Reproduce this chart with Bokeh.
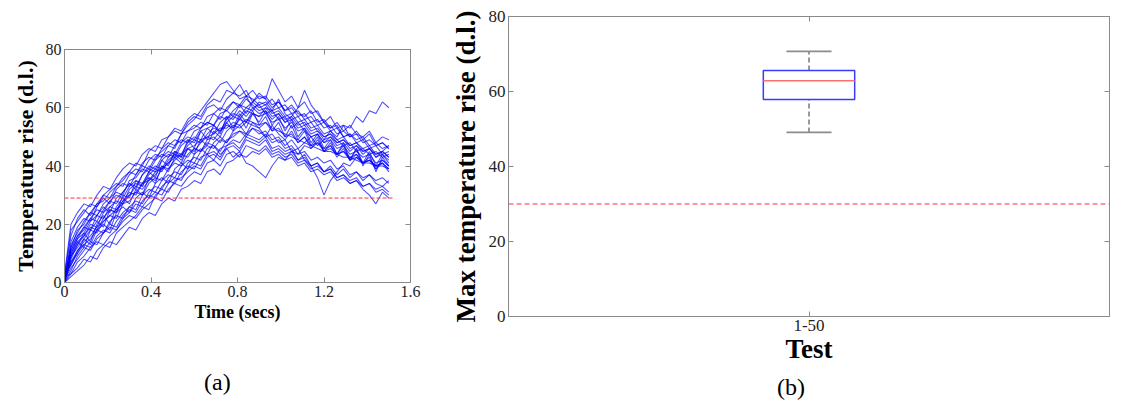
from bokeh.plotting import figure
from bokeh.models import (Range1d, FactorRange, LinearAxis, CategoricalAxis,
                          FixedTicker, Span, Div)
from bokeh.layouts import row, column
from bokeh.embed import file_html
from bokeh.resources import INLINE

SERIF = "Liberation Serif"
FRAME = "#8a8a8a"

# ---------------- data: temperature-rise traces (panel a) ----------------
time_s = [
    0.00, 0.03, 0.06, 0.09, 0.12, 0.15, 0.18, 0.21, 0.24, 0.27,
    0.30, 0.33, 0.36, 0.39, 0.42, 0.45, 0.48, 0.51, 0.54, 0.57,
    0.60, 0.63, 0.66, 0.69, 0.72, 0.75, 0.78, 0.81, 0.84, 0.87,
    0.90, 0.93, 0.96, 0.99, 1.02, 1.05, 1.08, 1.11, 1.14, 1.17,
    1.20, 1.23, 1.26, 1.29, 1.32, 1.35, 1.38, 1.41, 1.44, 1.47,
    1.50,
]

run_01 = [0, 12, 18, 20, 24, 27, 28, 31, 33, 36,
          38, 41, 40, 45, 47, 46, 50, 52, 51, 55,
          57, 56, 60, 61, 59, 63, 65, 64, 66, 62,
          65, 63, 60, 62, 59, 61, 58, 57, 59, 55,
          56, 53, 55, 52, 54, 51, 50, 52, 48, 50, 49]
run_02 = [2, 3, 5, 8, 7, 11, 13, 12, 17, 19,
          21, 23, 26, 25, 30, 32, 31, 35, 36, 38,
          40, 39, 43, 44, 42, 46, 47, 45, 49, 48,
          47, 49, 45, 46, 44, 45, 42, 43, 40, 41,
          38, 40, 37, 39, 36, 38, 35, 37, 34, 33, 35]
run_03 = [1, 9, 14, 12, 18, 21, 19, 25, 24, 30,
          29, 35, 33, 38, 36, 42, 40, 45, 43, 49,
          46, 52, 49, 54, 51, 57, 53, 58, 55, 59,
          54, 57, 52, 55, 50, 54, 49, 52, 47, 50,
          45, 48, 44, 47, 42, 46, 41, 45, 40, 44, 41]
run_04 = [0, 10, 15, 19, 18, 23, 26, 24, 29, 31,
          34, 33, 37, 40, 39, 43, 45, 44, 48, 50,
          49, 53, 55, 54, 57, 56, 59, 61, 58, 62,
          64, 63, 70, 66, 62, 64, 60, 62, 58, 59,
          55, 57, 53, 54, 50, 52, 49, 51, 47, 48, 46]
run_05 = [3, 6, 10, 13, 12, 16, 18, 17, 21, 24,
          26, 25, 30, 32, 31, 35, 37, 36, 40, 42,
          41, 45, 47, 46, 49, 48, 51, 52, 50, 53,
          51, 52, 49, 50, 47, 49, 46, 48, 50, 47,
          49, 52, 50, 54, 53, 57, 55, 59, 58, 62, 60]
run_06 = [0, 14, 19, 22, 21, 26, 29, 27, 32, 34,
          33, 37, 40, 39, 43, 45, 47, 46, 51, 54,
          56, 59, 62, 65, 68, 69, 66, 63, 64, 60,
          61, 58, 59, 56, 57, 53, 55, 52, 50, 51,
          48, 49, 46, 47, 44, 45, 43, 44, 41, 42, 40]
run_07 = [1, 5, 8, 11, 14, 13, 17, 19, 18, 22,
          24, 27, 26, 29, 31, 30, 34, 36, 35, 39,
          41, 40, 44, 45, 43, 47, 48, 46, 50, 49,
          48, 50, 46, 47, 45, 46, 42, 44, 40, 41,
          38, 39, 36, 37, 34, 35, 32, 30, 27, 31, 29]
run_08 = [2, 16, 22, 25, 23, 27, 30, 29, 33, 35,
          38, 37, 41, 43, 42, 46, 48, 47, 51, 52,
          54, 53, 57, 58, 56, 60, 62, 61, 64, 63,
          61, 62, 59, 60, 57, 58, 55, 56, 53, 54,
          51, 52, 49, 50, 47, 48, 46, 47, 44, 45, 43]
run_09 = [0, 7, 11, 14, 16, 19, 21, 23, 25, 27,
          30, 31, 34, 35, 38, 39, 41, 43, 44, 46,
          47, 49, 50, 51, 53, 53, 55, 54, 56, 55,
          54, 55, 53, 52, 51, 50, 49, 48, 47, 46,
          45, 45, 44, 43, 43, 42, 41, 41, 40, 40, 39]
run_10 = [1, 11, 16, 18, 22, 21, 25, 28, 27, 31,
          34, 32, 37, 39, 38, 42, 44, 43, 47, 49,
          48, 52, 53, 51, 55, 57, 56, 59, 57, 60,
          58, 59, 56, 58, 55, 57, 60, 66, 61, 58,
          55, 53, 54, 50, 51, 48, 49, 46, 47, 44, 45]
run_11 = [0, 2, 4, 6, 9, 8, 12, 14, 13, 16,
          19, 18, 22, 24, 23, 27, 29, 28, 32, 33,
          35, 34, 38, 39, 37, 41, 42, 44, 43, 45,
          44, 46, 43, 44, 42, 43, 40, 41, 38, 39,
          37, 38, 35, 36, 34, 35, 33, 34, 31, 32, 30]
run_12 = [3, 20, 24, 27, 26, 30, 33, 32, 36, 39,
          41, 40, 44, 46, 45, 49, 50, 53, 52, 56,
          58, 57, 61, 63, 62, 66, 65, 68, 64, 66,
          63, 64, 61, 62, 59, 60, 57, 58, 55, 56,
          53, 54, 51, 52, 50, 51, 48, 49, 47, 48, 46]
run_13 = [0, 8, 13, 17, 14, 20, 23, 20, 26, 29,
          27, 32, 30, 36, 34, 40, 38, 43, 41, 46,
          44, 49, 47, 52, 50, 55, 52, 57, 53, 58,
          55, 59, 54, 57, 52, 56, 50, 53, 48, 51,
          46, 49, 44, 48, 42, 46, 40, 44, 38, 43, 40]
run_14 = [2, 6, 11, 13, 15, 18, 17, 21, 23, 22,
          26, 28, 27, 31, 33, 32, 36, 38, 37, 41,
          43, 42, 46, 47, 45, 49, 50, 52, 51, 53,
          52, 50, 51, 48, 49, 45, 46, 42, 40, 36,
          30, 35, 38, 41, 40, 43, 41, 42, 39, 41, 38]
run_15 = [1, 13, 17, 21, 24, 23, 27, 29, 31, 30,
          35, 36, 39, 38, 42, 44, 43, 47, 49, 48,
          52, 53, 55, 54, 58, 59, 57, 61, 60, 62,
          60, 61, 58, 59, 56, 57, 54, 55, 52, 53,
          50, 51, 48, 49, 47, 48, 45, 46, 44, 45, 47]
run_16 = [0, 4, 9, 12, 11, 15, 17, 20, 19, 23,
          25, 24, 28, 30, 29, 33, 35, 34, 38, 40,
          39, 43, 44, 42, 46, 47, 49, 48, 51, 50,
          49, 51, 48, 49, 46, 47, 44, 45, 42, 43,
          41, 42, 39, 40, 37, 38, 36, 37, 35, 36, 34]
run_17 = [1, 10, 14, 16, 20, 19, 24, 26, 25, 28,
          31, 30, 34, 36, 35, 39, 41, 44, 42, 46,
          45, 48, 50, 49, 52, 54, 53, 56, 55, 58,
          57, 60, 59, 63, 58, 56, 57, 54, 55, 52,
          50, 51, 49, 47, 48, 45, 46, 44, 45, 43, 44]
run_18 = [0, 9, 12, 15, 18, 17, 21, 23, 22, 27,
          28, 31, 30, 34, 36, 35, 39, 41, 40, 44,
          46, 45, 49, 50, 48, 52, 54, 53, 55, 54,
          53, 55, 52, 53, 50, 51, 48, 50, 47, 48,
          45, 46, 44, 45, 42, 43, 41, 42, 40, 41, 39]
run_19 = [2, 12, 16, 19, 22, 25, 24, 28, 30, 29,
          33, 35, 34, 38, 40, 39, 43, 45, 44, 48,
          50, 49, 53, 54, 52, 56, 58, 57, 60, 59,
          62, 61, 63, 60, 61, 58, 59, 56, 57, 54,
          55, 52, 53, 50, 51, 49, 50, 47, 48, 46, 47]
run_20 = [1, 7, 10, 15, 13, 18, 20, 18, 24, 26,
          24, 29, 31, 29, 34, 36, 34, 39, 41, 39,
          44, 46, 44, 48, 50, 48, 52, 54, 51, 55,
          53, 50, 54, 51, 49, 52, 48, 50, 46, 49,
          45, 47, 43, 46, 42, 44, 41, 43, 39, 42, 40]
run_21 = [2, 18, 21, 24, 27, 26, 30, 32, 34, 33,
          37, 39, 38, 42, 44, 43, 47, 49, 48, 52,
          53, 55, 54, 58, 60, 59, 62, 60, 63, 61,
          59, 60, 57, 58, 55, 56, 53, 54, 51, 52,
          49, 50, 48, 49, 46, 47, 45, 46, 43, 44, 42]
run_22 = [0, 3, 7, 9, 12, 14, 13, 16, 18, 21,
          23, 22, 25, 27, 29, 28, 32, 34, 33, 36,
          38, 37, 41, 42, 40, 44, 45, 43, 47, 46,
          45, 47, 44, 45, 43, 44, 41, 42, 39, 40,
          38, 39, 36, 37, 35, 36, 33, 34, 32, 33, 31]
run_23 = [1, 11, 15, 17, 21, 23, 22, 26, 28, 27,
          32, 34, 33, 37, 39, 38, 42, 44, 43, 47,
          49, 48, 51, 53, 52, 55, 57, 56, 59, 58,
          57, 58, 55, 56, 53, 55, 52, 53, 50, 51,
          48, 50, 47, 48, 45, 47, 44, 46, 43, 45, 43]
run_24 = [0, 9, 13, 16, 19, 18, 22, 25, 24, 28,
          30, 33, 32, 35, 37, 40, 39, 42, 44, 43,
          46, 45, 48, 47, 44, 46, 43, 45, 41, 40,
          38, 36, 40, 43, 42, 45, 44, 47, 46, 48,
          46, 47, 44, 45, 43, 44, 41, 42, 40, 41, 39]

runs = [run_01, run_02, run_03, run_04, run_05, run_06, run_07, run_08,
        run_09, run_10, run_11, run_12, run_13, run_14, run_15, run_16,
        run_17, run_18, run_19, run_20, run_21, run_22, run_23, run_24]
for r in runs:
    assert len(r) == len(time_s)

threshold_a = 29          # d.l.
threshold_a_end = 1.52    # secs
time_ticks = [0, 0.4, 0.8, 1.2, 1.6]
time_tick_labels = ["0", "0.4", "0.8", "1.2", "1.6"]
rise_ticks = [0, 20, 40, 60, 80]

# ---------------- data: max temperature rise summary (panel b) ----------------
test_group = ["1-50"]
whisker_low = [49.1]
quartile_1 = [57.9]
median_rise = [62.9]
quartile_3 = [65.6]
whisker_high = [70.7]
threshold_b = 30


def style_axis(ax, label_size, title_size=None, show_labels=True):
    ax.axis_line_color = FRAME
    ax.axis_line_width = 1
    ax.major_tick_line_color = FRAME
    ax.major_tick_in = 5
    ax.major_tick_out = 0
    ax.minor_tick_line_color = None
    ax.major_label_text_font = SERIF
    ax.major_label_text_color = "#222222"
    ax.major_label_text_font_size = label_size
    ax.major_label_standoff = 3
    ax.axis_label_text_font = SERIF
    ax.axis_label_text_font_style = "bold"
    ax.axis_label_text_color = "#000000"
    if title_size:
        ax.axis_label_text_font_size = title_size
    if not show_labels:
        # mirrored tick marks only
        ax.major_label_text_color = None
        ax.major_label_text_font_size = "0px"
        ax.major_label_standoff = 0


def caption(text, width, height, indent):
    return Div(text=text, width=width, height=height, margin=0,
               styles={"font-family": SERIF, "font-size": "24px",
                       "text-align": "left", "text-indent": indent,
                       "color": "#000000", "line-height": f"{height}px"})


WIDTH_A = 428
WIDTH_B = 1133 - WIDTH_A

# ---------------- panel (a) ----------------
pa = figure(width=WIDTH_A, height=360, x_range=Range1d(0, 1.6), y_range=Range1d(0, 80),
            output_backend="svg", toolbar_location=None,
            min_border_left=64, min_border_right=18,
            min_border_top=49, min_border_bottom=78)
pa.xgrid.visible = False
pa.ygrid.visible = False
pa.outline_line_color = FRAME

pa.multi_line(xs=[time_s] * len(runs), ys=runs, line_color="#0000ff",
              line_alpha=0.7, line_width=1.05)
pa.line([0, threshold_a_end], [threshold_a, threshold_a], line_color="#ff3030",
        line_dash="4 2", line_width=1)

pa.xaxis.ticker = FixedTicker(ticks=time_ticks)
pa.xaxis.major_label_overrides = {t: s for t, s in zip(time_ticks, time_tick_labels)}
pa.yaxis.ticker = FixedTicker(ticks=rise_ticks)
pa.xaxis.axis_label = "Time (secs)"
pa.yaxis.axis_label = "Temperature rise (d.l.)"
style_axis(pa.xaxis[0], "16px", "18px")
style_axis(pa.yaxis[0], "16px", "22px")
pa.xaxis.axis_label_standoff = 2
pa.yaxis.axis_label_standoff = 5

top_a = LinearAxis(ticker=FixedTicker(ticks=time_ticks))
right_a = LinearAxis(ticker=FixedTicker(ticks=rise_ticks))
style_axis(top_a, "16px", show_labels=False)
style_axis(right_a, "16px", show_labels=False)
pa.add_layout(top_a, "above")
pa.add_layout(right_a, "right")

# ---------------- panel (b) ----------------
pb = figure(width=WIDTH_B, height=370, x_range=FactorRange(*test_group),
            y_range=Range1d(0, 80), output_backend="svg", toolbar_location=None,
            min_border_left=80, min_border_right=24,
            min_border_top=16, min_border_bottom=54)
pb.xgrid.visible = False
pb.ygrid.visible = False
pb.outline_line_color = FRAME
pb.x_range.range_padding = 0

pb.add_layout(Span(location=threshold_b, dimension="width", line_color="#ff3030",
                   line_dash="5 3", line_width=1))

# whiskers
pb.segment(x0=test_group, y0=quartile_3, x1=test_group, y1=whisker_high,
           line_color="#555555", line_dash="5 3", line_width=1.2)
pb.segment(x0=test_group, y0=whisker_low, x1=test_group, y1=quartile_1,
           line_color="#555555", line_dash="5 3", line_width=1.2)
# whisker caps
pb.vbar(x=test_group, width=0.075, bottom=whisker_high, top=whisker_high,
        fill_color=None, line_color="#8c8c8c", line_width=1.8)
pb.vbar(x=test_group, width=0.075, bottom=whisker_low, top=whisker_low,
        fill_color=None, line_color="#8c8c8c", line_width=1.8)
# interquartile box
pb.vbar(x=test_group, width=0.152, bottom=quartile_1, top=quartile_3,
        fill_color=None, line_color="#3a3aff", line_width=1.5)
# median
pb.vbar(x=test_group, width=0.152, bottom=median_rise, top=median_rise,
        fill_color=None, line_color="#ff7070", line_width=1.5)

pb.yaxis.ticker = FixedTicker(ticks=rise_ticks)
pb.xaxis.axis_label = "Test"
pb.yaxis.axis_label = "Max temperature rise (d.l.)"
style_axis(pb.xaxis[0], "17px", "27px")
style_axis(pb.yaxis[0], "17px", "27px")
pb.xaxis.major_label_standoff = 3
pb.xaxis.axis_label_standoff = 0
pb.yaxis.axis_label_standoff = 5

top_b = CategoricalAxis()
right_b = LinearAxis(ticker=FixedTicker(ticks=rise_ticks))
style_axis(top_b, "17px", show_labels=False)
style_axis(right_b, "17px", show_labels=False)
pb.add_layout(top_b, "above")
pb.add_layout(right_b, "right")

layout = row(column(pa, caption("(a)", WIDTH_A, 44, "204px")),
             column(pb, caption("(b)", WIDTH_B, 34, "349px")))
open("out.html", "w").write(file_html(layout, INLINE))
